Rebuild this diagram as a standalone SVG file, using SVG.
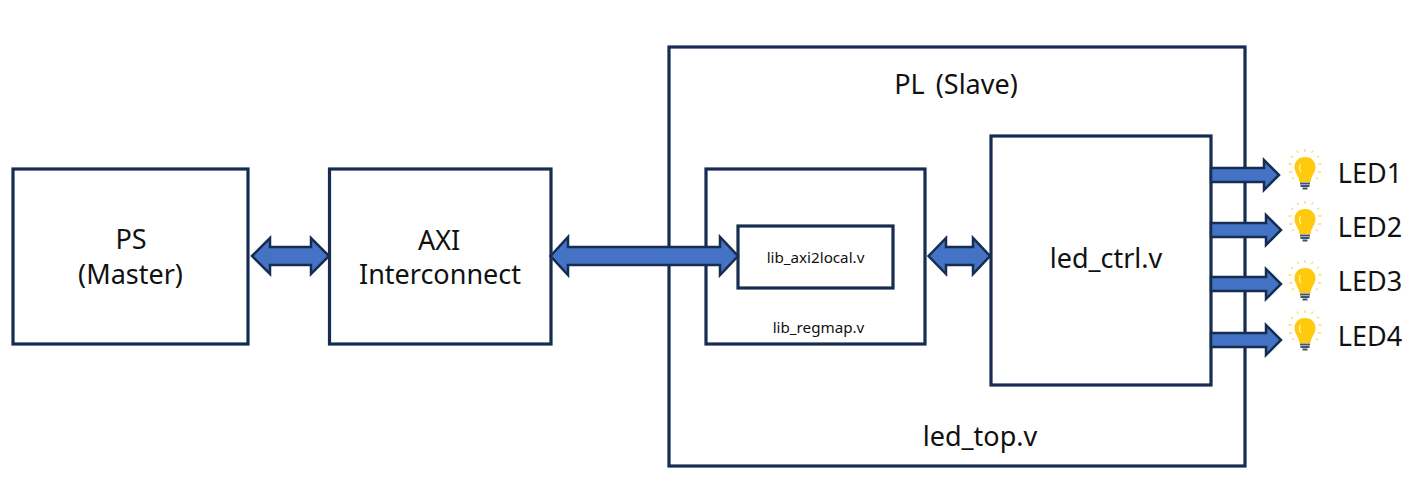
<svg xmlns="http://www.w3.org/2000/svg" width="1414" height="486" viewBox="0 0 1414 486">
<style>
.box{fill:#fff;stroke:#172c51;stroke-width:3.2}
.arr{fill:#4472c4;stroke:#172c51;stroke-width:2.5;stroke-linejoin:miter}
text{font-family:"Noto Sans","Open Sans",sans-serif;fill:#111;text-anchor:middle}
.l{font-size:27px}
.s{font-size:15.2px}
.ray{stroke:#ffd966;stroke-width:1.3;fill:none}
</style>
<defs>
<g id="bulb">
<path class="ray" d="M0-22V-19M-8-20.500L-6.500-18M8-20.500L6.500-18M-14-15L-12-13.500M14-15L12-13.500M-16.500-7H-13.500M16.500-7H13.500M-16 1H-13M16 1H13M-13 8L-11 6.500M13 8L11 6.500"/>
<path d="M0-14C-7-14-10.500-9-10.500-4C-10.500 2-6 5-5.500 11H5.500C6 5 10.500 2 10.500-4C10.500-9 7-14 0-14Z" fill="#ffc90e"/>
<path d="M-4.500-7C-6-4-5.500-1-4 1" stroke="#fff3c4" stroke-width="1.200" fill="none"/>
<path d="M-5 12.500H5M-4.500 15H4.500M-2.500 17.500H2.500" stroke="#44546a" stroke-width="1.800" fill="none"/>
</g>
</defs>
<g id="node-pl"><rect class="box" x="669" y="47" width="576" height="419"/>
<text class="l" x="956" y="94" word-spacing="4">PL (Slave)</text><text class="l" x="980" y="446">led_top.v</text></g>
<g id="node-ps"><rect class="box" x="13" y="169" width="235" height="175"/>
<text class="l" x="131" y="249">PS</text><text class="l" x="130.500" y="284">(Master)</text></g>
<g id="node-axi"><rect class="box" x="329.500" y="169" width="221.500" height="175"/>
<text class="l" x="439" y="250">AXI</text><text class="l" x="440" y="284">Interconnect</text></g>
<g id="node-regmap"><rect class="box" x="706" y="169" width="219" height="175"/>
<text class="s" x="818.500" y="333">lib_regmap.v</text></g>
<g id="node-axi2local"><rect class="box" x="738" y="226" width="155" height="62"/>
<text class="s" x="815.500" y="263">lib_axi2local.v</text></g>
<g id="node-ledctrl"><rect class="box" x="991" y="136" width="220" height="249"/>
<text class="l" x="1106" y="268">led_ctrl.v</text></g>
<g id="connectors">
<path class="arr" d="M252 256L270 238V247H311V238L329 256L311 274V265H270V274Z"/>
<path class="arr" d="M550.500 256L568 237V247H720V237L738 256L720 275V265H568V275Z"/>
<path class="arr" d="M928.500 256L946 238V247H973V238L990 256L973 274V265H946V274Z"/>
<path class="arr" d="M1211 168H1264V160L1279 175L1264 190V182H1211Z"/>
<path class="arr" d="M1211 223H1266V215L1281 230L1266 245V237H1211Z"/>
<path class="arr" d="M1211 277H1266V269L1281 284L1266 299V291H1211Z"/>
<path class="arr" d="M1211 333H1266V325L1281 340L1266 355V347H1211Z"/>
</g>
<g id="node-led1"><use href="#bulb" x="1305" y="171"/><text class="l" x="1370" y="183">LED1</text></g>
<g id="node-led2"><use href="#bulb" x="1305" y="223"/><text class="l" x="1370" y="237">LED2</text></g>
<g id="node-led3"><use href="#bulb" x="1305" y="282"/><text class="l" x="1370" y="291">LED3</text></g>
<g id="node-led4"><use href="#bulb" x="1305" y="332"/><text class="l" x="1370" y="346">LED4</text></g>
</svg>
